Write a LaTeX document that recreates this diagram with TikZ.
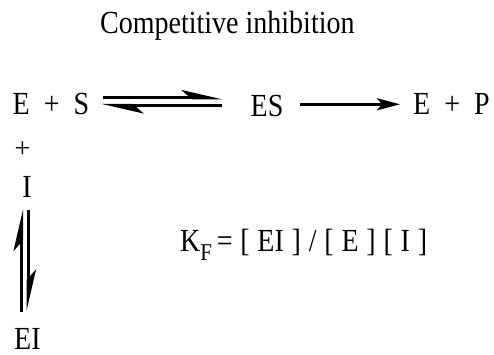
\documentclass[tikz,border=0pt]{standalone}
\usepackage{fontspec}
\usepackage{graphicx}
\setmainfont{Liberation Serif}
\usetikzlibrary{arrows.meta}
\newcommand\vstr[1]{\scalebox{1}[1.15]{#1}}
\newcommand\gp{\hspace{7.8pt}}
\tikzset{
  lbl/.style={inner sep=0pt, anchor=base west, font=\fontsize{28}{30}\selectfont},
  rxn/.style={line width=3pt, -{Stealth[length=23pt,width=12pt,inset=5pt]}},
  harp/.style={line width=3pt, -{Stealth[harpoon,length=35pt,width=16pt,inset=9pt]}},
}
\begin{document}
\begin{tikzpicture}[x=1pt,y=-1pt]
\useasboundingbox (0,0) rectangle (494,355);
\node[lbl] (title) at (100,34) {\vstr{Competitive inhibition}};
\node[lbl] (es) at (12.5,115) {\vstr{E\hspace{14pt}+\hspace{14pt}S}};
\node[lbl] (cplx) at (250.5,117) {\vstr{ES}};
\node[lbl] (ep) at (413,114.5) {\vstr{E\hspace{14pt}+\hspace{14pt}P}};
\node[lbl, anchor=center] (plus) at (22.5,150) {+};
\node[lbl] (inh) at (22.2,197) {\vstr{I}};
\node[lbl] (ei) at (14,349.5) {\vstr{EI}};
\node[lbl] (kf) at (180,251) {\vstr{K\raisebox{-8.5pt}{\fontsize{21}{21}\selectfont F}\,=\gp[\gp EI\gp]\gp/\gp[\gp E\gp]\gp[\gp I\gp]}};
% horizontal equilibrium
\coordinate (h1a) at (103,98);
\coordinate (h1b) at (223,98);
\coordinate (h2a) at (222,105.5);
\coordinate (h2b) at (102,105.5);
\draw[harp] (h1a) -- (h1b);
\draw[harp] (h2a) -- (h2b);
% forward reaction
\coordinate (r1) at (300,104.3);
\coordinate (r2) at (400,104.3);
\draw[rxn] (r1) -- (r2);
% vertical equilibrium
\coordinate (v1a) at (21.5,311.7);
\coordinate (v1b) at (21.5,209.5);
\coordinate (v2a) at (28,210);
\coordinate (v2b) at (28,311);
\draw[harp] (v1a) -- (v1b);
\draw[harp] (v2a) -- (v2b);
\end{tikzpicture}
\end{document}
